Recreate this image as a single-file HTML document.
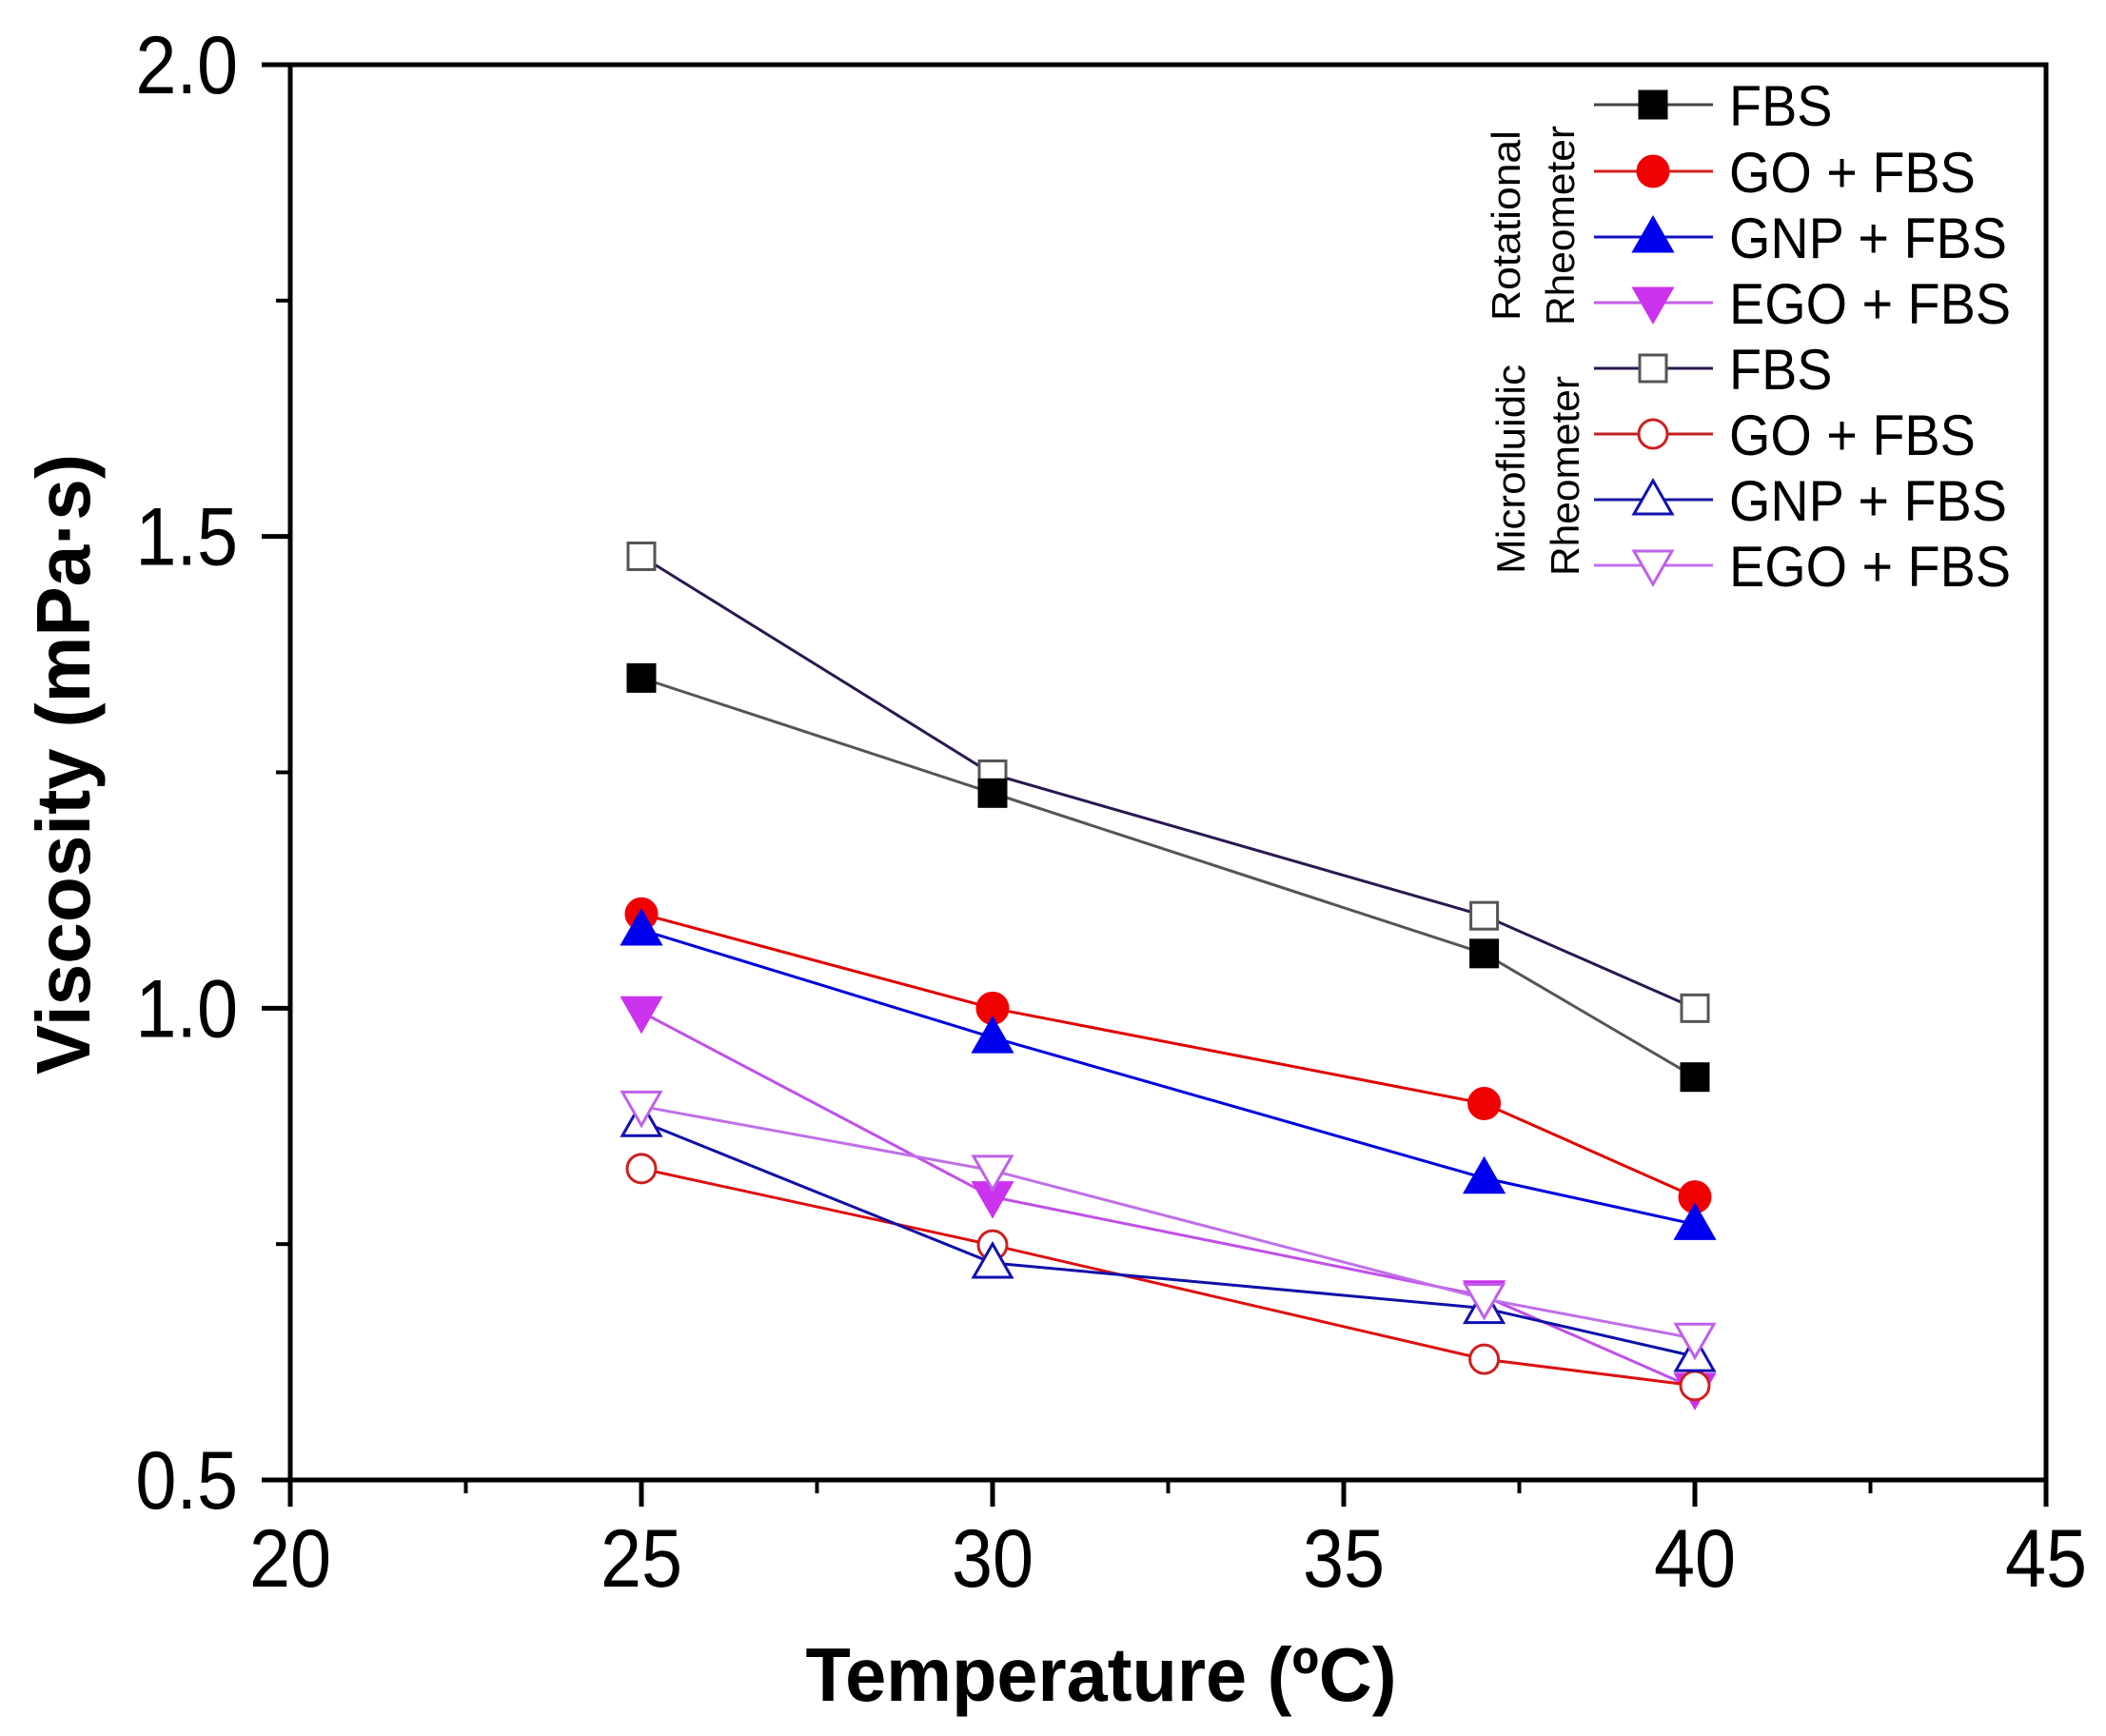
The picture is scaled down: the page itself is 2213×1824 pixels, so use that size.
<!DOCTYPE html>
<html><head><meta charset="utf-8"><style>
html,body{margin:0;padding:0;background:#fff;}
svg{display:block;font-family:"Liberation Sans",Arial,sans-serif;}
</style></head><body>
<svg id="chart" width="2213" height="1824" viewBox="0 0 2213 1824" xmlns="http://www.w3.org/2000/svg">
<g id="axes"></g>
<g id="series"></g>
<g id="legend"></g>
</svg>
<script>
const temps = [25, 30, 37, 40];
const rotFBS = [1.35, 1.228, 1.058, 0.927];
const rotGO = [1.10, 1.0, 0.899, 0.80];
const rotGNP = [1.083, 0.969, 0.82, 0.771];
const rotEGO = [0.996, 0.80, 0.695, 0.597];
const micFBS = [1.479, 1.248, 1.098, 1.0];
const micGO = [0.83, 0.749, 0.628, 0.60];
const micGNP = [0.88, 0.73, 0.682, 0.631];
const micEGO = [0.896, 0.828, 0.692, 0.65];
const xTicks = [20, 25, 30, 35, 40, 45];
const yTicks = [0.5, 1.0, 1.5, 2.0];
const xTickLabels = ["20", "25", "30", "35", "40", "45"];
const yTickLabels = ["0.5", "1.0", "1.5", "2.0"];
const legendLabels = ["FBS", "GO + FBS", "GNP + FBS", "EGO + FBS", "FBS", "GO + FBS", "GNP + FBS", "EGO + FBS"];

const NS = "http://www.w3.org/2000/svg";
const L = 305, R = 2150, T = 68, B = 1555;
const xMin = 20, xMax = 45, yMin = 0.5, yMax = 2.0;
function xs(v){ return L + (v - xMin) / (xMax - xMin) * (R - L); }
function ys(v){ return B - (v - yMin) / (yMax - yMin) * (B - T); }
function mk(tag, attrs, parent){
  const e = document.createElementNS(NS, tag);
  for (const k in attrs) e.setAttribute(k, attrs[k]);
  parent.appendChild(e); return e;
}
const axes = document.getElementById('axes');
const frame = mk('rect', {x:L, y:T, width:R-L, height:B-T, fill:'none', stroke:'#000', 'stroke-width':5}, axes);


xTicks.forEach((v,i)=>{
  const t = mk('line', {x1:xs(v), x2:xs(v), y1:B, y2:B+28, stroke:'#000', 'stroke-width':5}, axes);
  
  
  const lb = mk('text', {x:xs(v), y:1667, 'font-size':86, 'text-anchor':'middle', fill:'#000', transform:`translate(${xs(v)},0) scale(0.9,1) translate(${-xs(v)},0)`}, axes);
  lb.textContent = xTickLabels[i];
  
  
  if (i < xTicks.length - 1) {
    const mv = v + 2.5;
    const m = mk('line', {x1:xs(mv), x2:xs(mv), y1:B, y2:B+14, stroke:'#000', 'stroke-width':4}, axes);
    
    
  }
});
yTicks.forEach((v,i)=>{
  const t = mk('line', {x1:L-30, x2:L, y1:ys(v), y2:ys(v), stroke:'#000', 'stroke-width':5}, axes);
  
  
  const lb = mk('text', {x:250, y:ys(v)+30, 'font-size':86, 'text-anchor':'end', fill:'#000', transform:`translate(250,0) scale(0.9,1) translate(-250,0)`}, axes);
  lb.textContent = yTickLabels[i];
  
  
  if (i < yTicks.length - 1) {
    const mv = v + 0.25;
    const m = mk('line', {x1:L-15, x2:L, y1:ys(mv), y2:ys(mv), stroke:'#000', 'stroke-width':4}, axes);
    
    
  }
});
const xt = mk('text', {x:1157, y:1787, 'font-size':80, 'font-weight':'bold', 'text-anchor':'middle', textLength:621, lengthAdjust:'spacingAndGlyphs'}, axes);
xt.textContent = "Temperature (ºC)";


const yt = mk('text', {x:0, y:0, 'font-size':80, 'font-weight':'bold', 'text-anchor':'middle', textLength:652, lengthAdjust:'spacingAndGlyphs', transform:'translate(94,803) rotate(-90)'}, axes);
yt.textContent = "Viscosity (mPa·s)";



function marker(shape, cx, cy, color, filled, parent){
  const f = filled ? color : '#fff';
  const sw = 3;
  if (shape === 'square') return mk('rect', {x:cx-14, y:cy-14, width:28, height:28, fill:f, stroke:filled?'#000':'#555', 'stroke-width':sw}, parent);
  if (shape === 'circle') return mk('circle', {cx:cx, cy:cy, r:filled?16:15, fill:f, stroke:color, 'stroke-width':sw}, parent);
  if (shape === 'up') return mk('polygon', {points:`${cx},${cy-20} ${cx+20},${cy+15} ${cx-20},${cy+15}`, fill:f, stroke:color, 'stroke-width':sw}, parent);
  return mk('polygon', {points:`${cx-20},${cy-15} ${cx+20},${cy-15} ${cx},${cy+20}`, fill:f, stroke:color, 'stroke-width':sw}, parent);
}
const seriesDefs = [
  {name:'micro-fbs', data:micFBS, line:'#2a1850', mc:'#000', shape:'square', filled:false},
  {name:'rot-fbs', data:rotFBS, line:'#555', mc:'#000', shape:'square', filled:true},
  {name:'rot-go', data:rotGO, line:'#e00000', mc:'#f00000', shape:'circle', filled:true},
  {name:'rot-gnp', data:rotGNP, line:'#0000dd', mc:'#0000f0', shape:'up', filled:true},
  {name:'rot-ego', data:rotEGO, line:'#c050e8', mc:'#cc33ee', shape:'down', filled:true},
  {name:'micro-go', data:micGO, line:'#dd1010', mc:'#cc2020', shape:'circle', filled:false},
  {name:'micro-gnp', data:micGNP, line:'#1010a8', mc:'#1010b0', shape:'up', filled:false},
  {name:'micro-ego', data:micEGO, line:'#c070e8', mc:'#c060e8', shape:'down', filled:false}
];
const sg = document.getElementById('series');
seriesDefs.forEach(s=>{
  const g = mk('g', {}, sg);
  
  
  const pts = s.data.map((v,i)=>xs(temps[i]) + ',' + ys(v)).join(' ');
  const pl = mk('polyline', {points:pts, fill:'none', stroke:s.line, 'stroke-width':3}, g);
  
  
  s.data.forEach((v,i)=>{
    const m = marker(s.shape, xs(temps[i]), ys(v), s.mc, s.filled, g);
    
    
  });
});
const lg = document.getElementById('legend');
const legOrder = [
  {line:'#444', mc:'#000', shape:'square', filled:true},
  {line:'#d02020', mc:'#f00000', shape:'circle', filled:true},
  {line:'#1010c0', mc:'#0000f0', shape:'up', filled:true},
  {line:'#c060e8', mc:'#cc33ee', shape:'down', filled:true},
  {line:'#2a1850', mc:'#000', shape:'square', filled:false},
  {line:'#c02020', mc:'#cc2020', shape:'circle', filled:false},
  {line:'#1a1aa0', mc:'#1010b0', shape:'up', filled:false},
  {line:'#c070e8', mc:'#c060e8', shape:'down', filled:false}
];
const rowY = [110, 180, 249, 318, 387, 456, 525, 594];
legOrder.forEach((d,i)=>{
  const g = mk('g', {}, lg);
  
  
  mk('line', {x1:1675, x2:1800, y1:rowY[i], y2:rowY[i], stroke:d.line, 'stroke-width':3}, g);
  marker(d.shape, 1737, rowY[i], d.mc, d.filled, g);
  const t = mk('text', {x:1817, y:rowY[i]+22, 'font-size':60, fill:'#000', transform:`translate(1817,0) scale(0.93,1) translate(-1817,0)`}, g);
  t.textContent = legendLabels[i];
});
function grpLabel(txt, x, y, len){
  const t = mk('text', {x:0, y:0, 'font-size':42, 'text-anchor':'middle', textLength:len, lengthAdjust:'spacingAndGlyphs', transform:`translate(${x},${y}) rotate(-90)`}, lg);
  t.textContent = txt;
  
  
}
grpLabel("Rotational", 1597, 237, 200);
grpLabel("Rheometer", 1654, 237, 210);
grpLabel("Microfluidic", 1602, 493, 220);
grpLabel("Rheometer", 1659, 500, 210);
</script>
</body></html>
